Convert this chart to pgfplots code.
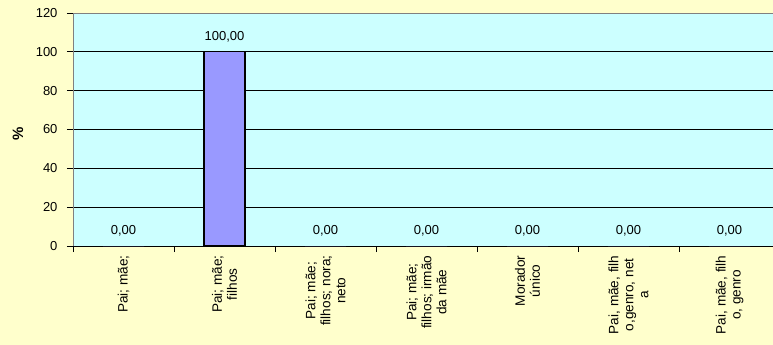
\documentclass[border=0pt]{standalone}
\usepackage{pgfplots}
\usepackage{pgfplotstable}
\pgfplotsset{compat=1.18}
\usepackage{fontspec}
\setmainfont{Liberation Sans}
\definecolor{bgyellow}{HTML}{FFFFCC}
\definecolor{plotcyan}{HTML}{CCFFFF}
\definecolor{barblue}{HTML}{9999FF}
\newcommand\lbl{\fontsize{13}{15}\selectfont}
\newcommand\catlbl{\fontsize{13.6}{15}\selectfont}

% share of households (%) by composition
\pgfplotstableread{
x  pct
0  0
1  100
2  0
3  0
4  0
5  0
6  0
}\households

\begin{document}
\begin{tikzpicture}[x=1pt,y=1pt]
% page background; the plot area runs on past the right edge
\path[use as bounding box, fill=bgyellow] (0,0) rectangle (773,-345);
\clip (0,0) rectangle (773,-345);
\begin{axis}[
  at={(73pt,-246pt)}, anchor=south west,
  scale only axis, width=707pt, height=233pt,
  xmin=-0.5, xmax=6.5, ymin=0, ymax=120,
  axis background/.style={fill=plotcyan},
  axis x line*=bottom, axis y line*=left,
  x axis line style={black, line width=0.9pt},
  y axis line style={gray, line width=0.9pt},
  tick align=outside,
  major tick length=6pt,
  tick style={black, line width=0.8pt},
  xtick={-0.5,0.5,...,6.5},
  x tick label as interval,
  xticklabels={
    {Pai; mãe;},
    {Pai; mãe;\\ filhos},
    {Pai; mãe;\\ filhos; nora;\\ neto},
    {Pai; mãe;\\ filhos; irmão\\ da mãe},
    {Morador\\ único},
    {Pai, mãe, filh\\ o,genro, net\\ a},
    {Pai, mãe, filh\\ o, genro}},
  xticklabel style={rotate=90, anchor=east, align=center, font=\catlbl, text=black},
  ytick={0,20,...,100},
  extra y ticks={120}, extra y tick labels={120},
  extra y tick style={grid style={gray, line width=0.9pt}},
  ymajorgrids,
  grid style={black, line width=0.9pt},
  yticklabel style={font=\lbl, text=black, xshift=-6pt},
  /pgf/number format/assume math mode=true,
  ylabel={\%},
  ylabel style={at={(axis description cs:-0.0778,0.48)}, anchor=center,
    font=\fontsize{15}{17}\selectfont\bfseries},
  ybar, bar width=41pt, bar shift=0pt,
]
% filled bars with their value labels
\addplot[fill=barblue, draw=none,
  nodes near coords={\pgfmathprintnumber[fixed,fixed zerofill,precision=2,use comma]{\pgfplotspointmeta}},
  every node near coord/.append style={font=\lbl, text=black, anchor=center, yshift=15pt}]
  table[x=x, y=pct] {\households};
% outlines only where a bar has height
\addplot[fill=none, draw=black, line width=1.2pt,
  y filter/.expression={y==0 ? nan : y}]
  table[x=x, y=pct] {\households};
\end{axis}
\end{tikzpicture}
\end{document}
